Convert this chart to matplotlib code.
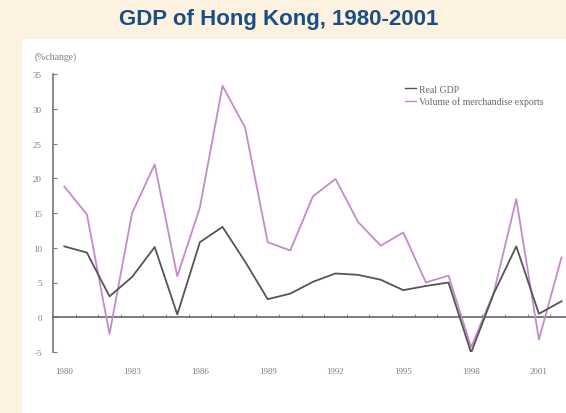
import numpy as np
import matplotlib
matplotlib.use("Agg")
import matplotlib.pyplot as plt
from matplotlib.patches import Rectangle

# data (% change)
years = list(range(1980, 2003))
real_gdp = [10.2, 9.3, 3.0, 5.8, 10.1, 0.4, 10.8, 13.0, 8.0, 2.6, 3.4, 5.1, 6.3,
            6.1, 5.4, 3.9, 4.5, 5.0, -5.1, 3.4, 10.2, 0.5, 2.3]
exports = [18.8, 14.8, -2.4, 15.0, 22.0, 5.9, 15.8, 33.3, 27.3, 10.8, 9.6, 17.4, 19.9,
           13.7, 10.3, 12.2, 5.0, 6.0, -4.3, 3.5, 17.0, -3.2, 8.6]
tick_years = [1980, 1983, 1986, 1989, 1992, 1995, 1998, 2001]
yticks = [-5, 0, 5, 10, 15, 20, 25, 30, 35]

W, H = 566, 414
fig = plt.figure(figsize=(W / 100, H / 100), dpi=100)
fig.patch.set_facecolor('#FDF1DF')

# white panel behind the chart
fig.add_artist(Rectangle((22 / W, 0), 1 - 22 / W, (H - 40) / H,
                         transform=fig.transFigure, facecolor='white',
                         edgecolor='none', zorder=-5))

fig.text(279 / W, 1 - 19 / H, 'GDP of Hong Kong, 1980-2001', ha='center', va='center',
         fontsize=16, fontweight='bold', color='#1A4F85', family='Liberation Sans')
fig.text(35 / W, 1 - 57 / H, '(%change)', ha='left', va='center',
         fontsize=7, color='#808080', family='Liberation Serif')

# axes: x from 1979.5 at px 53, y from -5 at px 353 to 35 at px 75
left, bottom, top = 53, 353, 75
ax = fig.add_axes([left / W, 1 - bottom / H, 1 - left / W, (bottom - top) / H])
ax.set_facecolor('none')
ax.set_xlim(1979.5, 1979.5 + (W - left) / 22.6)
ax.set_ylim(-5, 35)

ax.plot(years, exports, color='#C888D0', lw=1.3, label='Volume of merchandise exports', zorder=3)
ax.plot(years, real_gdp, color='#555555', lw=1.3, label='Real GDP', zorder=4)

for s in ['top', 'right']:
    ax.spines[s].set_visible(False)
ax.spines['left'].set_color('#777777')
ax.spines['left'].set_linewidth(1.2)
ax.spines['bottom'].set_position(('data', 0))
ax.spines['bottom'].set_color('#666666')
ax.spines['bottom'].set_linewidth(1.2)

ax.set_yticks(yticks)
ax.set_yticklabels([str(v) for v in yticks], fontsize=6.5, color='#808080',
                   family='Liberation Serif')
ax.tick_params(axis='y', direction='in', length=3, color='#777777', pad=8)

ax.set_xticks(tick_years)
ax.set_xticklabels([str(v) for v in tick_years], fontsize=6.5, color='#808080',
                   family='Liberation Serif')
ax.tick_params(axis='x', which='major', length=0, pad=36)
ax.set_xticks(np.arange(1980.5, 2002.5, 1), minor=True)
ax.tick_params(axis='x', which='minor', direction='in', length=2.5, color='#777777')

handles, labels = ax.get_legend_handles_labels()
leg = ax.legend(handles[::-1], labels[::-1], loc='upper left',
                bbox_to_anchor=((401 - left) / (W - left), 1 - (82 - top) / (bottom - top)),
                frameon=False, handlelength=1.1, handletextpad=0.4,
                labelspacing=0.25, borderaxespad=0, prop={'family': 'Liberation Serif', 'size': 7})
for t in leg.get_texts():
    t.set_color('#666666')
for h in leg.get_lines():
    h.set_linewidth(1.0)

fig.savefig('out.png', dpi=100, facecolor=fig.get_facecolor())
